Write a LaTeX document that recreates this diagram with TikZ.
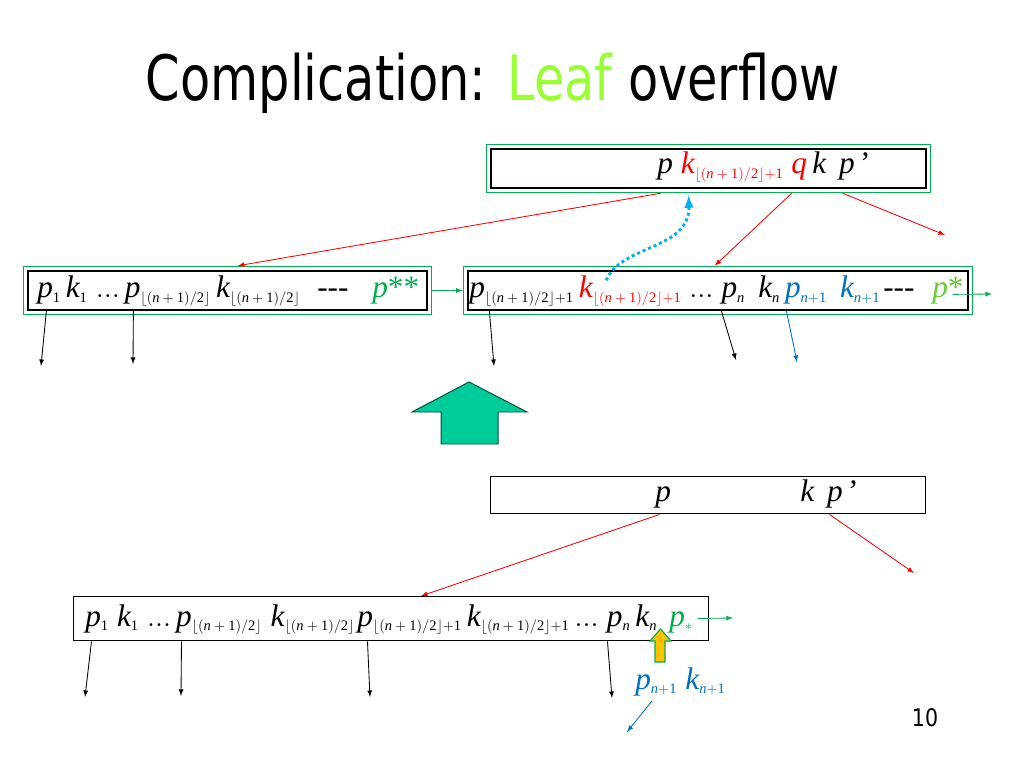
\documentclass[tikz,border=0pt]{standalone}
\usepackage{amsmath}
\usepackage{graphicx}
\usepackage{mathspec}
\setmainfont{Liberation Serif}
\setmathsfont(Digits,Latin){Liberation Serif}
\newfontfamily\slidefont{DejaVu Sans}
\usetikzlibrary{calc,fit,arrows}
\definecolor{boxgreen}{RGB}{0,176,80}
\definecolor{leafgreen}{RGB}{153,255,51}
\definecolor{stargreen}{RGB}{102,204,51}
\definecolor{ptrblue}{RGB}{0,112,192}
\definecolor{upblue}{RGB}{0,176,240}
\definecolor{bigup}{RGB}{0,204,153}
\definecolor{gold}{RGB}{255,192,0}
\newcommand{\half}{\lfloor(n+1)/2\rfloor}
\newcommand{\sub}[1]{_{\text{\fontsize{10.2}{12}\selectfont$#1$}}}

\begin{document}
\begin{tikzpicture}[x=0.703125pt, y=-0.703125pt, >=latex,
    inbox/.style={draw, line width=0.9pt, minimum height=27.4pt, inner sep=0pt},
    frame/.style={draw=boxgreen, line width=0.9pt, inner sep=2.8pt},
    txt/.style={anchor=base west, inner sep=0pt, font=\fontsize{22}{26}\selectfont},
    ptr/.style={->, line width=0.6pt},
    redptr/.style={->, red, line width=0.6pt},
    gptr/.style={->, boxgreen, line width=0.6pt}]
  \fill[white] (0,0) rectangle (1024,768);
  \useasboundingbox (0,0) rectangle (1024,768);
  \node[anchor=base, font=\slidefont\fontsize{44}{50}\selectfont] (title) at (493,101)
    {\scalebox{0.79}[1]{Complication: \textcolor{leafgreen}{Leaf} overflow}};
  % root before and after the split
  \node[inbox, minimum width=305.9pt] (T) at (708.5,168.5) {};
  \node[frame, fit=(T)] (TF) {};
  \node[txt] (Tt1) at (657,174) {$p$ \textcolor{red}{$k\sub{\half{+}1}$ $q$}};
  \node[txt] (Tt2) at (812,174) {$k$ \,$p$\,’};
  \node[inbox, minimum width=280.5pt] (L) at (227.5,290.5) {};
  \node[frame, fit=(L)] (LF) {};
  \node[txt] (Lt1) at (37,298) {$p\sub{1}\,k\sub{1}\;...\,p\sub{\half}\,k\sub{\half}$};
  \node[txt] (Lt2) at (317,298) {-{}-{}-};
  \node[txt, text=boxgreen] (Lt3) at (372,298) {$p$**};
  \node[inbox, minimum width=351.6pt] (R) at (718,290.5) {};
  \node[frame, fit=(R)] (RF) {};
  \node[txt] (Rt1) at (469,298) {$p\sub{\half{+}1}\,$\textcolor{red}{$k\sub{\half{+}1}$}};
  \node[txt] (Rt2) at (689,298) {$...\;p\sub{n}\;\,k\sub{n}$\textcolor{ptrblue}{$\,p\sub{n{+}1}\;\,k\sub{n{+}1}$}};
  \node[txt] (Rt3) at (883,298) {-{}-{}-};
  \node[txt, text=stargreen] (Rt4) at (932,298) {$p$*};
  \draw[gptr] (LF.east) -- (RF.west);
  \coordinate (rs) at (992,294);
  \draw[gptr] ($(R.north east)+(-16,24)$) -- (rs);
  \coordinate (rr) at (945,235);
  \draw[redptr] ($(TF.south west)+(175,0)$) -- ($(LF.north west)+(215,0)$);
  \draw[redptr] ($(TF.south west)+(306,0)$) -- ($(RF.north west)+(252,0)$);
  \draw[redptr] ($(TF.south west)+(357,0)$) -- (rr);
  \draw[->, upblue, line width=2pt, dash pattern=on 2.2pt off 2pt]
    ($(R.north west)+(139,10)$) .. controls (620,245) and (690,250) .. ($(TF.south west)+(203,2)$);
  \foreach \n/\dx/\ex/\ey in {1/19/41/366, 2/106/133/364}{
    \coordinate (lend\n) at (\ex,\ey);
    \draw[ptr] ($(L.south west)+(\dx,0)$) -- (lend\n);
  }
  \foreach \n/\dx/\ex/\ey in {1/22/494/366, 2/254/736/360}{
    \coordinate (rend\n) at (\ex,\ey);
    \draw[ptr] ($(R.south west)+(\dx,0)$) -- (rend\n);
  }
  \coordinate (rend3) at (797,362);
  \draw[->, ptrblue, line width=0.6pt] ($(R.south west)+(319,0)$) -- (rend3);
  \filldraw[fill=bigup, draw=black!60!bigup, line width=0.7pt]
    (469,382) -- (527,412) -- (498,412) -- (498,444) -- (441,444) -- (441,412) -- (412,412) -- cycle;
  \node[inbox, line width=0.7pt, minimum width=305.2pt, minimum height=26.7pt] (T2) at (708,495) {};
  \node[txt] (T2p) at (655,501) {$p$};
  \node[txt] (T2k) at (800,501) {$k$ \,$p$\,’};
  \node[inbox, line width=0.7pt, minimum width=445.8pt, minimum height=31.6pt] (B) at (391,618.5) {};
  \node[txt] (Bt1) at (85,626) {$p\sub{1}\;k\sub{1}\;...\,p\sub{\half}\;k\sub{\half}$};
  \node[txt] (Bt2) at (357,626) {$p\sub{\half{+}1}\,k\sub{\half{+}1}\,...\;p\sub{n}\,k\sub{n}$};
  \node[txt, text=boxgreen] (Bt3) at (669,626) {$p\sub{*}$};
  \coordinate (ll) at (421,596);
  \coordinate (lr) at (914,573);
  \draw[redptr] ($(T2.south west)+(169,0)$) -- (ll);
  \draw[redptr] ($(T2.south west)+(339,0)$) -- (lr);
  \coordinate (bs) at (733,618);
  \draw[gptr] ($(B.east)+(-11,0)$) -- (bs);
  \foreach \n/\dx/\ex/\ey in {1/18/85/697, 2/108/181/696, 3/294/370/697, 4/534/612/698}{
    \coordinate (bend\n) at (\ex,\ey);
    \draw[ptr] ($(B.south west)+(\dx,0)$) -- (bend\n);
  }
  \filldraw[fill=gold, draw=boxgreen, line width=0.8pt]
    (660.5,629) -- (671,641) -- (665,641) -- (665,662) -- (655,662) -- (655,641) -- (650,641) -- cycle;
  \node[txt, text=ptrblue] (pn1) at (635,689) {$p\sub{n{+}1}\;k\sub{n{+}1}$};
  \coordinate (pe) at (627,732);
  \draw[->, ptrblue, line width=0.6pt] ($(pn1.south west)+(17,5)$) -- (pe);
  \node[font=\slidefont\fontsize{17}{20}\selectfont] (page) at (925,718) {\scalebox{0.85}[1]{10}};
\end{tikzpicture}
\end{document}
